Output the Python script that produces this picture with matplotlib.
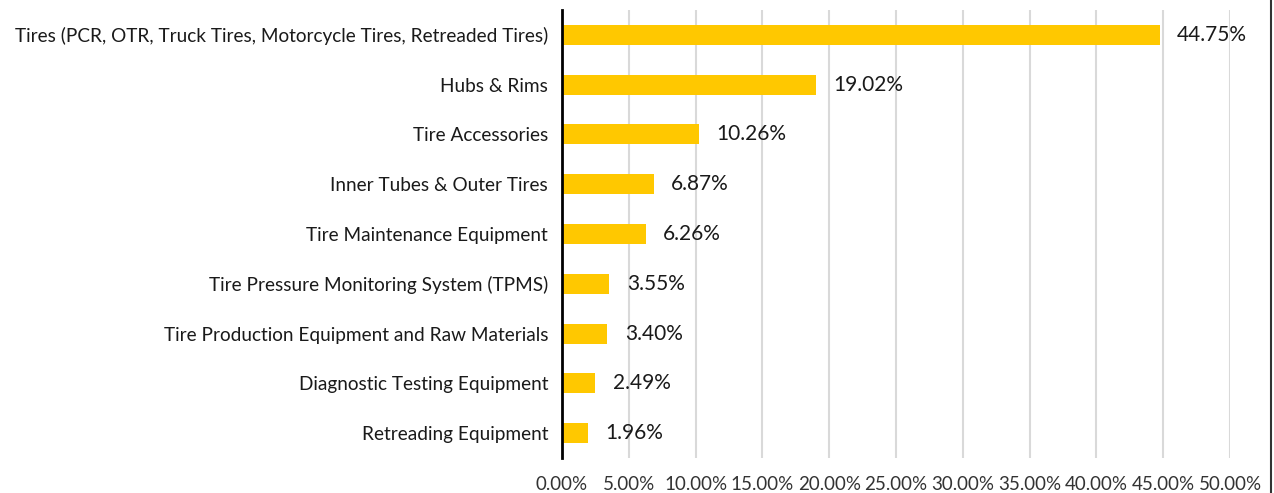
import matplotlib.pyplot as plt
from matplotlib.lines import Line2D
from matplotlib.ticker import FuncFormatter

categories = [
    "Tires (PCR, OTR, Truck Tires, Motorcycle Tires, Retreaded Tires)",
    "Hubs & Rims",
    "Tire Accessories",
    "Inner Tubes & Outer Tires",
    "Tire Maintenance Equipment",
    "Tire Pressure Monitoring System (TPMS)",
    "Tire Production Equipment and Raw Materials",
    "Diagnostic Testing Equipment",
    "Retreading Equipment",
]
shares = [44.75, 19.02, 10.26, 6.87, 6.26, 3.55, 3.40, 2.49, 1.96]
ticks = [0, 5, 10, 15, 20, 25, 30, 35, 40, 45, 50]

plt.rcParams['font.family'] = ['Lato', 'DejaVu Sans']

fig = plt.figure(figsize=(12.74, 4.93), dpi=100)
ax = fig.add_axes([562 / 1274, 1 - 458 / 493, (1230 - 562) / 1274, 448 / 493])

ypos = list(range(len(categories)))
ax.barh(ypos, shares, height=0.4, color='#FFC800', zorder=3)
for y, v in zip(ypos, shares):
    ax.text(v + 1.3, y, f"{v:.2f}%", va='center', ha='left', fontsize=15, color='#1a1a1a')

ax.set_yticks(ypos)
ax.set_yticklabels(categories, fontsize=13.7, color='#1a1a1a')
ax.set_ylim(len(categories) - 0.5, -0.5)
ax.set_xlim(0, 50)
ax.set_xticks(ticks)
ax.xaxis.set_major_formatter(FuncFormatter(lambda x, p: f"{x:.2f}%"))
ax.tick_params(axis='x', length=0, pad=13, labelsize=13.5, labelcolor='#333333')
ax.tick_params(axis='y', length=0, pad=10)

ax.grid(axis='x', color='#D9D9D9', linewidth=1.5, zorder=0)
for s in ['top', 'right', 'bottom']:
    ax.spines[s].set_visible(False)
ax.spines['left'].set_linewidth(2)
ax.spines['left'].set_color('black')
ax.spines['left'].set_zorder(4)

fig.add_artist(Line2D([1271 / 1274, 1271 / 1274], [0, 1], color='#333333', linewidth=1.5))

fig.savefig('out.png', dpi=100)
